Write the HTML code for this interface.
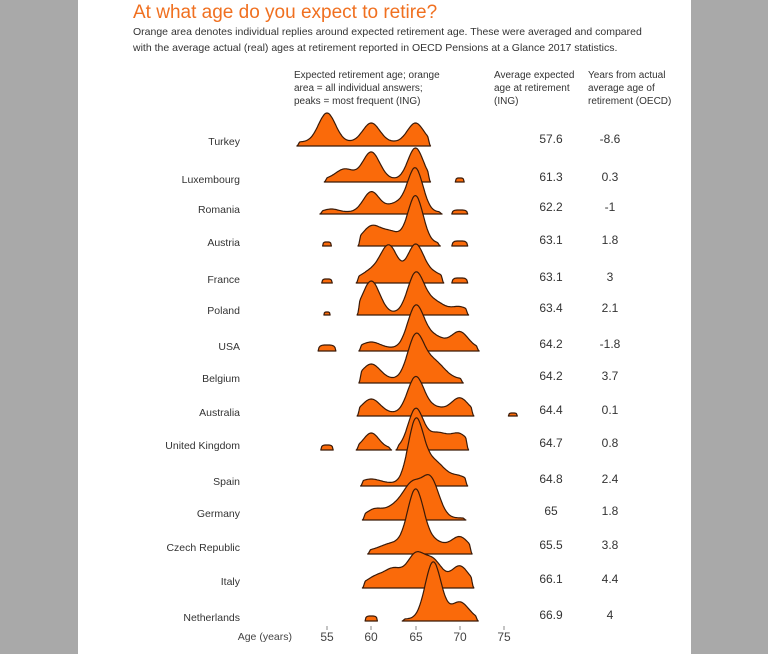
<!DOCTYPE html>
<html><head><meta charset="utf-8"><style>
body{margin:0;background:#a9a9a9;}
#page{position:absolute;left:78px;top:0;width:613px;height:654px;background:#fff;}
svg{position:absolute;left:0;top:0}
text{font-family:"Liberation Sans",sans-serif;}
</style></head><body>
<div id="page"></div>
<svg id="s" width="768" height="654" xmlns="http://www.w3.org/2000/svg">
<text x="133" y="18" font-size="19" fill="#f07020">At what age do you expect to retire?</text>
<text x="133" y="35" font-size="10.5" fill="#333">Orange area denotes individual replies around expected retirement age. These were averaged and compared</text>
<text x="133" y="51" font-size="10.5" fill="#333">with the average actual (real) ages at retirement reported in OECD Pensions at a Glance 2017 statistics.</text>
<g font-size="10" fill="#333">
<text x="294" y="78">Expected retirement age; orange</text>
<text x="294" y="91">area = all individual answers;</text>
<text x="294" y="104">peaks = most frequent (ING)</text>
<text x="494" y="78">Average expected</text>
<text x="494" y="91">age at retirement</text>
<text x="494" y="104">(ING)</text>
<text x="588" y="78">Years from actual</text>
<text x="588" y="91">average age of</text>
<text x="588" y="104">retirement (OECD)</text>
</g>
<g id="ridges"></g>
<g id="labels" font-size="10.5" fill="#333"></g>
<g font-size="11" fill="#444">
<text x="292" y="640" text-anchor="end" font-size="10.5">Age (years)</text>
<text x="327" y="641" text-anchor="middle" font-size="12">55</text>
<text x="371" y="641" text-anchor="middle" font-size="12">60</text>
<text x="416" y="641" text-anchor="middle" font-size="12">65</text>
<text x="460" y="641" text-anchor="middle" font-size="12">70</text>
<text x="504" y="641" text-anchor="middle" font-size="12">75</text>
</g>
<g stroke="#888" stroke-width="1">
<line x1="327" y1="626" x2="327" y2="630"/><line x1="371" y1="626" x2="371" y2="630"/><line x1="416" y1="626" x2="416" y2="630"/><line x1="460" y1="626" x2="460" y2="630"/><line x1="504" y1="626" x2="504" y2="630"/>
</g>
</svg>
<script>
var X=function(a){return 327+(a-55)*8.85;};
var rows=[
["Turkey",146,141,"57.6","-8.6",[[51.6,66.7]],[[55,29,0.95],[60,19,0.95],[65,19,0.9]],4,[]],
["Luxembourg",182,179,"61.3","0.3",[[54.7,66.7]],[[57,10,1],[60,27,0.95],[65,31,0.85]],3,[[70,4,0.5]]],
["Romania",214,209,"62.2","-1",[[54.2,68]],[[55.5,3,0.8],[60,20,0.9],[63,9,1.2],[65,42,0.85]],2,[[70,4,0.9]]],
["Austria",246,242,"63.1","1.8",[[58.5,67.8]],[[60,16,1],[62.2,11,1.1],[65,47,0.85]],3,[[55,4,0.5],[70,5,0.9]]],
["France",283,279,"63.1","3",[[58.3,68.2]],[[60,8,1],[62,33,0.95],[65,34,0.9],[67,6,1]],4,[[55,4,0.6],[70,5,0.9]]],
["Poland",315,310,"63.4","2.1",[[58.4,71]],[[60,32,0.95],[65,38,0.9],[67,12,1.2],[70,6,0.9]],2,[[55,3,0.15]]],
["USA",351,346,"64.2","-1.8",[[58.6,72.2]],[[60,6,1],[65,40,0.9],[67,12,1.2],[70,16,0.95]],3,[[55,6,1]]],
["Belgium",383,378,"64.2","3.7",[[58.6,70.4]],[[60,15,1],[65,41,0.9],[67,18,1.2]],4,[]],
["Australia",416,412,"64.4","0.1",[[58.4,71.6]],[[60,14,1],[65,35,0.9],[67,6,1.2],[70,15,0.95]],3,[[76,3,0.5]]],
["United Kingdom",450,445,"64.7","0.8",[[58.3,62.3],[62.8,71]],[[60,15,0.85],[65,38,0.85],[67.5,15,1.2],[70,13,0.95]],2,[[55,5,0.7]]],
["Spain",486,481,"64.8","2.4",[[58.8,70.9]],[[60,4,1],[65,58,0.85],[67,22,1.3],[70,6,0.9]],3,[]],
["Germany",520,513,"65","1.8",[[59,70.7]],[[60.3,8,0.9],[62.8,12,1.2],[64.7,30,1],[66.7,38,0.95]],2,[]],
["Czech Republic",554,547,"65.5","3.8",[[59.6,71.4]],[[62.5,8,1.4],[65,58,0.9],[67,10,1.2],[70,14,0.95]],3,[]],
["Italy",588,581,"66.1","4.4",[[59,71.6]],[[60.5,7,0.9],[62.5,15,1],[65,28,0.95],[67,23,1],[70,18,0.95]],4,[]],
["Netherlands",621,617,"66.9","4",[[63.5,72.1]],[[67,57,0.9],[70,17,1]],2,[[60,5,0.7]]]
];
var NS="http://www.w3.org/2000/svg",R=document.getElementById("ridges"),L=document.getElementById("labels");
function el(t,a,p,txt){var e=document.createElementNS(NS,t);for(var k in a)e.setAttribute(k,a[k]);if(txt)e.textContent=txt;p.appendChild(e);return e;}
function area(by,a0,a1,f,taper){var d="M"+X(a0).toFixed(1)+","+by;var n=Math.max(12,Math.round((a1-a0)*10));
for(var i=0;i<=n;i++){var a=a0+(a1-a0)*i/n;var e=1;if(taper){e=Math.min(1,(a-a0)/0.35,(a1-a)/0.35);e=e*e*(3-2*e);}d+=" L"+X(a).toFixed(1)+","+(by-f(a)*e).toFixed(1);}
d+=" L"+X(a1).toFixed(1)+","+by+" Z";el("path",{d:d,fill:"#fa6a0a",stroke:"#3a1a08","stroke-width":"1.2","stroke-linejoin":"round"},R);}
rows.forEach(function(r){var by=r[1];
r[8].forEach(function(b){var w=Math.max(b[2],0.35);area(by,b[0]-w,b[0]+w,function(a){var t=(a-b[0])/w;return b[1]*Math.sqrt(Math.max(0,1-t*t*t*t));},false);});
var f=function(a){var s=r[7];r[6].forEach(function(g){s+=g[1]*Math.exp(-Math.pow(a-g[0],2)/(2*g[2]*g[2]));});return s;};
r[5].forEach(function(sg){area(by,sg[0],sg[1],f,true);});
el("text",{x:240,y:r[2]+4,"text-anchor":"end"},L,r[0]);
el("text",{x:551,y:r[2]+2,"text-anchor":"middle","font-size":"12"},L,r[3]);
el("text",{x:610,y:r[2]+2,"text-anchor":"middle","font-size":"12"},L,r[4]);
});
</script>
</body></html>
